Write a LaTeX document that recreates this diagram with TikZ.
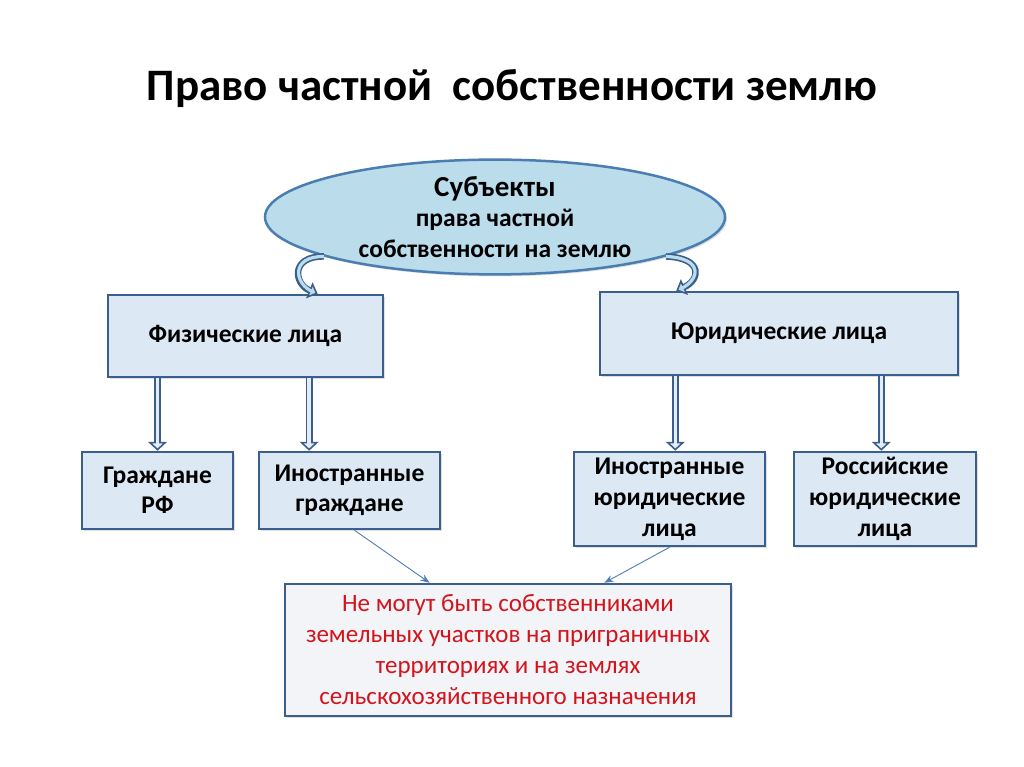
\documentclass[tikz,border=0pt]{standalone}
\usepackage{fontspec}
\setmainfont{Carlito}
\usetikzlibrary{shapes.geometric,arrows.meta,shadows,calc}

\definecolor{boxfill}{HTML}{DCE8F4}
\definecolor{boxline}{HTML}{3B5F8C}
\definecolor{ellfill}{HTML}{BADCEB}
\definecolor{ellline}{HTML}{4A7DB0}
\definecolor{notefill}{HTML}{F2F4F8}
\definecolor{notetext}{HTML}{D3141C}
\definecolor{thinline}{HTML}{4F7CB5}
\definecolor{arrowin}{HTML}{E4ECF7}

\begin{document}
\begin{tikzpicture}[x=1pt,y=-1pt,
	box/.style={rectangle,draw=boxline,line width=2.5pt,fill=boxfill,align=center,inner sep=0pt,
		font=\bfseries\fontsize{25.5}{30}\selectfont,
		drop shadow={opacity=0.25,shadow xshift=2pt,shadow yshift=-2pt}},
	blockarrow/.style={draw=boxline,line width=7pt,-{Triangle[length=9pt,width=19pt,line width=1.6pt,fill=arrowin]},
		postaction={draw=arrowin,line width=3.4pt,-,shorten >=5pt}},
	curvearrow/.style={draw=boxline,line width=6.5pt,-{Triangle[length=9pt,width=17pt,line width=1.6pt,fill=ellfill]},
		postaction={draw=ellfill,line width=3.2pt,-,shorten >=5pt}},
	thinarrow/.style={draw=thinline,line width=0.9pt,-{Stealth[length=9pt,width=7pt]}}]
	\useasboundingbox (0,0) rectangle (1024,767);
	
	\node (title) at (512,89) {\bfseries\fontsize{45}{50}\selectfont Право частной\ \ собственности землю};
	
	\node [ellipse,draw=ellline,line width=2.5pt,fill=ellfill,minimum width=460,minimum height=106,align=center,inner sep=0pt,
		font=\bfseries\fontsize{25.5}{30.5}\selectfont,
		drop shadow={opacity=0.25,shadow xshift=2pt,shadow yshift=-2pt}] (subj) at (495,217)
		{{\fontsize{29}{30.5}\selectfont Субъекты}\\
		 права частной\\
		 собственности на землю};
	
	\node [box,minimum width=275,minimum height=82] (fiz) at (245.5,336) {Физические лица};
	\node [box,minimum width=358,minimum height=83] (yur) at (779,333.5) {Юридические лица};
	
	\node [box,minimum width=151,minimum height=77] (grrf) at (157.5,490.5) {Граждане\\РФ};
	\node [box,minimum width=181,minimum height=77] (inogr) at (349.5,490.5) {Иностранные\\граждане};
	\node [box,minimum width=191,minimum height=94,font=\bfseries\fontsize{25.5}{31}\selectfont] (inoyur) at (669.5,499) {Иностранные\\юридические\\лица};
	\node [box,minimum width=182,minimum height=94,font=\bfseries\fontsize{25.5}{31}\selectfont] (rosyur) at (885,499) {Российские\\юридические\\лица};
	
	\node [box,fill=notefill,minimum width=446,minimum height=132,text=notetext,
		font=\fontsize{25}{31}\selectfont] (note) at (508,650)
		{Не могут быть собственниками\\земельных участков на приграничных\\территориях и на землях\\сельскохозяйственного назначения};
	
	% curved arrows from the ellipse
	\draw [curvearrow] (subj.193) .. controls (290,256) and (294,284) .. ($(fiz.north west)!0.76!(fiz.north east)$);
	\draw [curvearrow] (subj.347) .. controls (704,258) and (700,280) .. ($(yur.north west)!0.215!(yur.north east)$);
	
	% straight arrows down
	\foreach \a/\b/\f in {fiz/grrf/0.5,fiz/inogr/0.28,yur/inoyur/0.53,yur/rosyur/0.48}
	{
		\coordinate (tip) at ($(\b.north west)!\f!(\b.north east)$);
		\draw [blockarrow] (\a.south -| tip) -- (tip);
	}
	
	\draw [thinarrow] ($(inogr.south)+(5,0)$) -- ($(note.north west)!0.325!(note.north east)$);
	\draw [thinarrow] (inoyur.south) -- ($(note.north west)!0.715!(note.north east)$);
\end{tikzpicture}
\end{document}
